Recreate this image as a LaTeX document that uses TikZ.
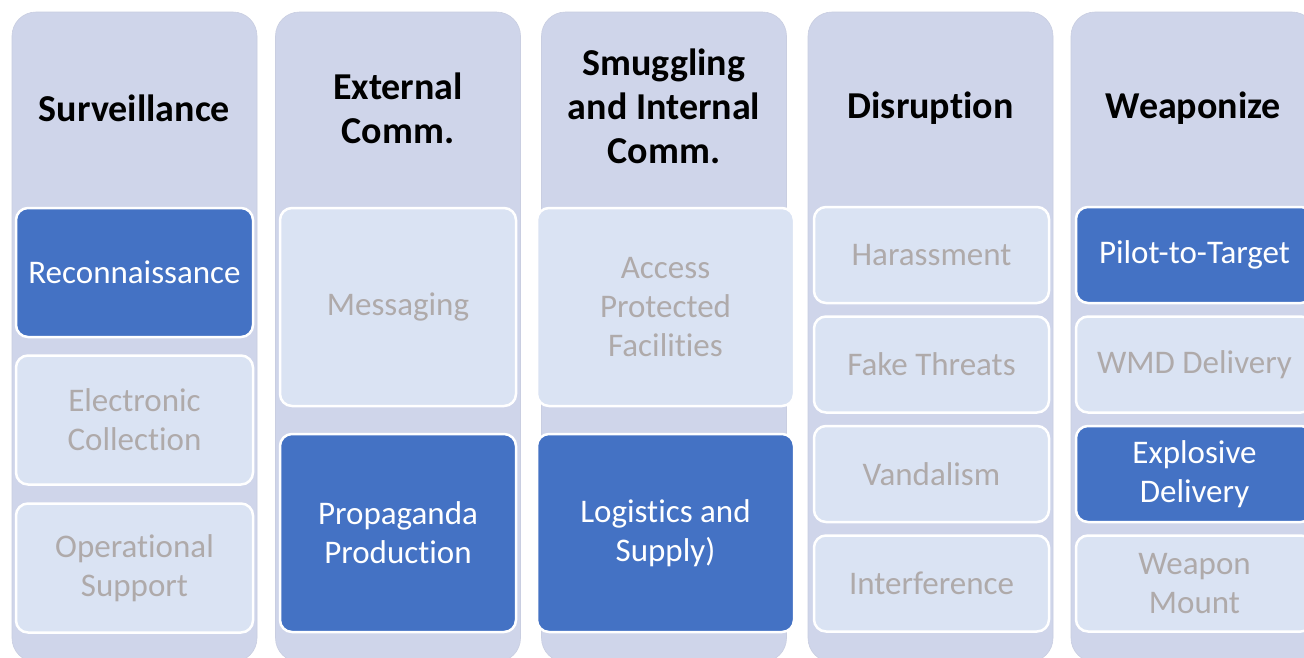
\documentclass[tikz,border=0pt]{standalone}
\usepackage{fontspec}
\setmainfont{Carlito}[Ligatures=NoCommon, Contextuals=NoAlternate]
\usepackage{xcolor}
\definecolor{colbg}{HTML}{CFD5EA}
\definecolor{accent}{HTML}{4472C4}
\definecolor{pale}{HTML}{DAE3F3}
\definecolor{mute}{HTML}{AFAAAA}

\tikzset{
  column/.style={fill=colbg, draw=colbg!92!gray, line width=0.6pt, rounded corners=24pt,
    minimum width=245pt, minimum height=650pt, inner sep=0pt},
  heading/.style={font=\bfseries\fontsize{38}{44}\selectfont, align=center, text=black},
  itembox/.style={draw=white, line width=2.5pt, rounded corners=12pt, inner sep=0pt,
    align=center, font=\fontsize{33}{39}\selectfont},
  active/.style={itembox, fill=accent, text=white},
  idle/.style={itembox, fill=pale, text=mute},
}

\begin{document}
\begin{tikzpicture}[x=1pt, y=-1pt]
   \useasboundingbox (0,0) rectangle (1304,657);
   \clip (0,0) rectangle (1304,657);
   \fill[white] (0,0) rectangle (1304,657);
   % columns and headings
   \foreach \cx/\n/\ty/\title in {134.5/a/108/{Surveillance}, 398/b/108/{External\\Comm.},
       664/c/106/{Smuggling\\and Internal\\Comm.}, 930.5/d/108/{Disrupt\kern0pt ion}, 1193.5/e/108/{Weaponize}} {
     \node[column] (col\n) at (\cx,337) {};
     \node[heading] (head\n) at (\cx,\ty) {\title};
   }
   % surveillance
   \foreach \y/\s/\i/\txt in {272.5/active/1/{Reconnaissance}, 420/idle/2/{Electronic\\Collection},
       568/idle/3/{Operational\\Support}}
     \node[\s, minimum width=237pt, minimum height=129pt] (a\i) at (134.5,\y) {\txt};
   % external comm.
   \node[idle, minimum width=236pt, minimum height=198pt] (b1) at (398,307) {Messaging};
   \node[active, minimum width=236pt, minimum height=198pt] (b2) at (398,533) {Propaganda\\Product\kern0pt ion};
   % smuggling
   \node[idle, minimum width=257pt, minimum height=198pt] (c1) at (665.5,307) {Access\\Protected\\Facilit\kern0pt ies};
   \node[active, minimum width=257pt, minimum height=198pt] (c2) at (665.5,533) {Logist\kern0pt ics and\\Supply)};
   % disruption
   \foreach \y/\i/\txt in {255/1/Harassment, 364.5/2/Fake Threats, 474/3/Vandalism, 583.5/4/Interference}
     \node[idle, minimum width=235pt, minimum height=96pt] (d\i) at (931.5,\y) {\txt};
   % weaponize
   \foreach \y/\s/\i/\txt in {255/active/1/{Pilot-to-Target}, 364.5/idle/2/{WMD Delivery},
       474/active/3/{Explosive\\Delivery}, 583.5/idle/4/{Weapon\\Mount}}
     \node[\s, minimum width=237pt, minimum height=96pt] (e\i) at (1194.5,\y) {\txt};
\end{tikzpicture}
\end{document}
